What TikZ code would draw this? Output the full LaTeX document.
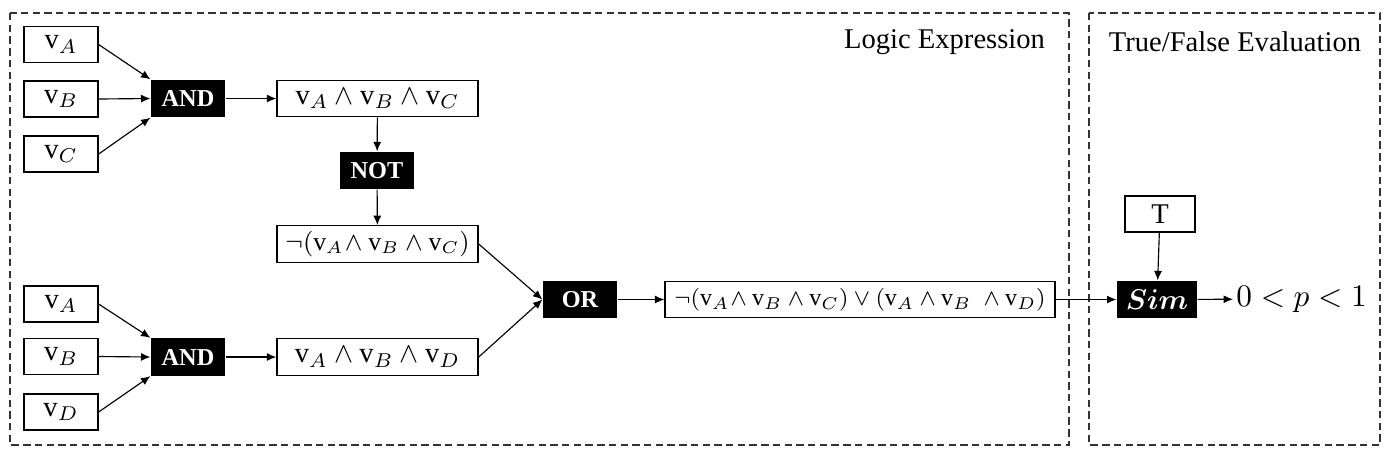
\documentclass[tikz,border=0pt]{standalone}
\usepackage{amsmath}
\usepackage{fontspec}
\setmainfont{Liberation Serif}
\usetikzlibrary{arrows.meta}
\begin{document}
\begin{tikzpicture}[x=0.35pt,y=-0.35pt,
    every node/.style={font=\normalsize},
    var/.style={draw,line width=.45pt,minimum width=25.9pt,minimum height=12.6pt,inner sep=0pt},
    expr/.style={draw,line width=.45pt,minimum width=70.4pt,minimum height=12.8pt,inner sep=0pt},
    small/.style={font=\fontsize{9}{11}\selectfont},
    gate/.style={fill=black,text=white,font=\fontsize{8.5}{10}\selectfont\bfseries,minimum width=25.9pt,minimum height=13pt,inner sep=0pt},
    frame/.style={line width=.4pt,dash pattern=on 2.6pt off 1.5pt,black!80},
    link/.style={-{Latex[length=3.3pt,width=2.8pt]},line width=.4pt}]
    \useasboundingbox (0,0) rectangle (1392,457);
    \draw[frame] (10,13) rectangle (1069,445);
    \draw[frame] (1089,13) rectangle (1380,445);
    \node[anchor=east] (title1) at (1055,42) {Logic Expression};
    \node (title2) at (1235,42) {True/False Evaluation};
    \node[var] (va1) at (61,44.5) {$\mathrm{v}_A$};
    \node[var] (vb1) at (61,99) {$\mathrm{v}_B$};
    \node[var] (vc1) at (61,154) {$\mathrm{v}_C$};
    \node[gate] (and1) at (188,98.5) {AND};
    \node[expr] (conj1) at (377.5,98.5) {$\mathrm{v}_A \wedge \mathrm{v}_B \wedge \mathrm{v}_C$};
    \node[gate] (not) at (377,170.5) {NOT};
    \node[expr,small] (neg) at (377.5,244) {$\neg(\mathrm{v}_A\!\wedge \mathrm{v}_B \wedge \mathrm{v}_C)$};
    \node[var] (va2) at (61,304) {$\mathrm{v}_A$};
    \node[var] (vb2) at (61,356.5) {$\mathrm{v}_B$};
    \node[var] (vd2) at (61,412) {$\mathrm{v}_D$};
    \node[gate] (and2) at (188,357) {AND};
    \node[expr] (conj2) at (377.5,357) {$\mathrm{v}_A \wedge \mathrm{v}_B \wedge \mathrm{v}_D$};
    \node[gate] (or) at (580,299.5) {OR};
    \node[expr,font=\fontsize{8.4}{10}\selectfont,minimum width=136.5pt] (disj) at (860,299.5) {$\neg(\mathrm{v}_A\!\wedge \mathrm{v}_B \wedge \mathrm{v}_C) \vee (\mathrm{v}_A \wedge \mathrm{v}_B \;\wedge \mathrm{v}_D)$};
    \node[var,minimum width=24.5pt] (t) at (1160,214) {T};
    \node[gate,minimum width=28pt,font=\normalsize] (sim) at (1157,299.5) {$\boldsymbol{Sim}$};
    \node[anchor=west,inner sep=1pt,font=\fontsize{11}{13}\selectfont] (prob) at (1233,299) {$0<p<1$};
    \draw[link] (va1.east) -- (and1.north west);
    \draw[link] (vb1.east) -- (and1.west);
    \draw[link] (vc1.east) -- (and1.south west);
    \draw[link] (and1) -- (conj1);
    \draw[link] (conj1) -- (not);
    \draw[link] (not) -- (neg);
    \draw[link] (va2.east) -- (and2.north west);
    \draw[link] (vb2.east) -- (and2.west);
    \draw[link] (vd2.east) -- (and2.south west);
    \draw[link] (and2) -- (conj2);
    \draw[link] (neg.east) -- (or.west);
    \draw[link] (conj2.east) -- (or.west);
    \draw[link] (or) -- (disj);
    \draw[link] (disj) -- (sim);
    \draw[link] (t) -- (sim);
    \draw[link] (sim) -- (prob);
\end{tikzpicture}
\end{document}
